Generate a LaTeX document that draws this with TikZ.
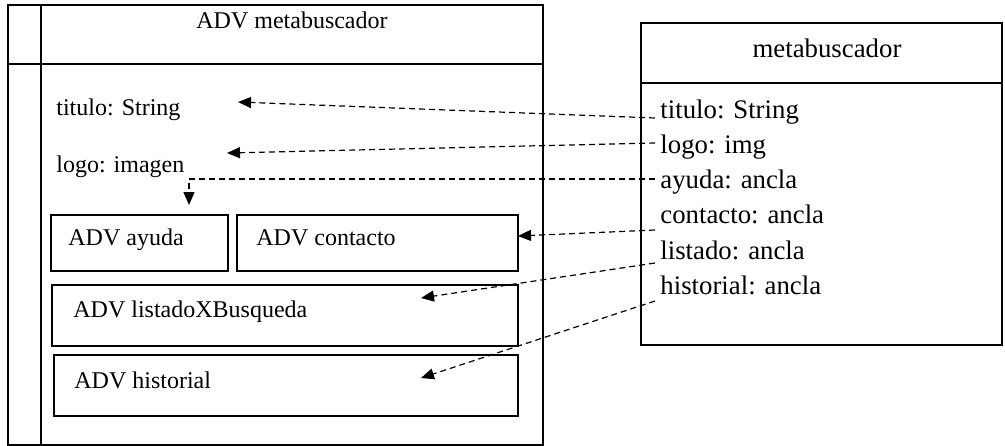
\documentclass[tikz,border=0pt]{standalone}
\usepackage{fontspec}
\setmainfont{Liberation Serif}
\usetikzlibrary{arrows.meta}

\tikzset{
  caja/.style={line width=0.7pt},
  enlace/.style={line width=0.6pt, dash pattern=on 3pt off 2pt,
    -{Triangle[length=6.5pt,width=5.5pt]}},
  txtadv/.style={anchor=base west, inner sep=0pt, font=\fontsize{12}{14}\selectfont},
  txtmeta/.style={anchor=base west, inner sep=0pt, font=\fontsize{13.4}{16}\selectfont},
}

\begin{document}
\begin{tikzpicture}[x=0.5pt,y=-0.5pt]
  \useasboundingbox (0,0) rectangle (1005,445);

  % vista ADV metabuscador
  \draw[caja] (8,5) rectangle (543,445);
  \draw[caja] (41,5) -- (41,445);
  \draw[caja] (8,64) -- (543,64);
  \node[txtadv, anchor=base] (advTit) at (292,28) {ADV metabuscador};
  \node[txtadv] (advTitulo) at (56,115) {titulo: String};
  \node[txtadv] (advLogo) at (56,172) {logo: imagen};

  % subvistas
  \draw[caja] (51,215) rectangle (228,271);
  \draw[caja] (237,215) rectangle (518,271);
  \draw[caja] (52,285) rectangle (518,346);
  \draw[caja] (54,355) rectangle (518,416);
  \node[txtadv] (advAyuda) at (68,245) {ADV ayuda};
  \node[txtadv] (advContacto) at (256,245) {ADV contacto};
  \node[txtadv] (advListado) at (73,317) {ADV listadoXBusqueda};
  \node[txtadv] (advHistorial) at (74,388) {ADV historial};

  % clase metabuscador
  \draw[caja] (641,23) rectangle (1002,345);
  \draw[caja] (641,83) -- (1002,83);
  \node[txtmeta, anchor=base] (metaTit) at (827,57) {metabuscador};
  \node[txtmeta] (mTitulo) at (660,118) {titulo: String};
  \node[txtmeta] (mLogo) at (660,153) {logo: img};
  \node[txtmeta] (mAyuda) at (660,188) {ayuda: ancla};
  \node[txtmeta] (mContacto) at (660,223) {contacto: ancla};
  \node[txtmeta] (mListado) at (660,259) {listado: ancla};
  \node[txtmeta] (mHistorial) at (660,294) {historial: ancla};

  % extremos de los enlaces
  \coordinate (sTitulo) at (655,118);
  \coordinate (sLogo) at (655,143);
  \coordinate (sAyuda) at (655,179);
  \coordinate (sContacto) at (655,230);
  \coordinate (sListado) at (655,263);
  \coordinate (sHistorial) at (655,301);

  \coordinate (tTitulo) at (238,102);
  \coordinate (tLogo) at (227,153);
  \coordinate (tAyuda) at (189,205);
  \coordinate (tContacto) at (518,236);
  \coordinate (tListado) at (421,298);
  \coordinate (tHistorial) at (421,378);

  \draw[enlace] (sTitulo) -- (tTitulo);
  \draw[enlace] (sLogo) -- (tLogo);
  \draw[enlace] (sAyuda) -| (tAyuda);
  \draw[enlace] (sContacto) -- (tContacto);
  \draw[enlace] (sListado) -- (tListado);
  \draw[enlace] (sHistorial) -- (tHistorial);
\end{tikzpicture}
\end{document}
